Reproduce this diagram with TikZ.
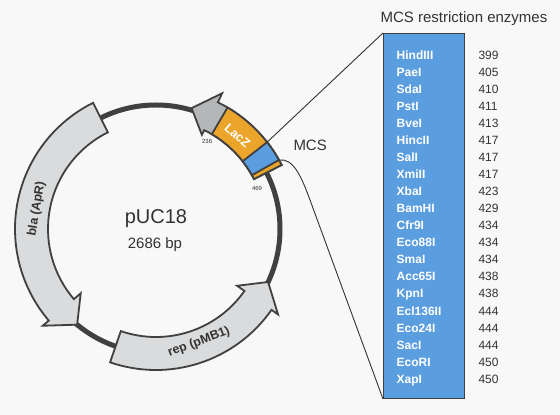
\documentclass[tikz,border=0pt]{standalone}
\usepackage{fontspec}
\setmainfont{Liberation Sans}
\definecolor{bgc}{HTML}{F8F8F8}
\definecolor{dk}{HTML}{404040}
\definecolor{txt}{HTML}{333333}
\definecolor{lgray}{HTML}{DADBDC}
\definecolor{mgray}{HTML}{B5B6B8}
\definecolor{lacz}{HTML}{EBA52B}
\definecolor{mcsblue}{HTML}{5B9EE0}
\newcommand\featarrow[4]{% tail, base, tip, style
  \draw[#4] (#1:108pt) arc[start angle=#1,end angle=#2,radius=108pt]
    -- (#2:99pt) -- (#3:124pt) -- (#2:149pt) -- (#2:141pt)
    arc[start angle=#2,end angle=#1,radius=141pt] -- cycle;}
\newcommand\featband[3]{% from, to, style
  \draw[#3] (#1:110pt) arc[start angle=#1,end angle=#2,radius=110pt]
    -- (#2:141pt) arc[start angle=#2,end angle=#1,radius=141pt] -- cycle;}
\begin{document}
\begin{tikzpicture}[x=1pt,y=1pt,
  feat/.style={draw=dk,line width=1.8pt,line join=miter},
  ringtext/.style={text=txt,font=\bfseries\fontsize{12.5}{14}\selectfont,inner sep=0pt},
  enzname/.style={text=white,font=\bfseries\fontsize{12}{14}\selectfont,anchor=base west,inner sep=0pt},
  enzpos/.style={text=txt,font=\fontsize{12}{14}\selectfont,anchor=base west,inner sep=0pt},
  tiny/.style={text=txt,font=\fontsize{6}{7}\selectfont,inner sep=0pt},
  conn/.style={draw=txt,line width=0.9pt}]
\fill[bgc] (0,0) rectangle (560,415);
\useasboundingbox (0,0) rectangle (560,415);
\begin{scope}[shift={(156,186)}]
  \draw[dk,line width=5pt] (0,0) circle[radius=124pt];
  \featarrow{116.5}{220.5}{230.5}{feat,fill=lgray}
  \featarrow{251}{325}{334.7}{feat,fill=lgray}
  % top feature
  \draw[feat,fill=mgray] (27:110pt) arc[start angle=27,end angle=64,radius=110pt]
    -- (64:104.7pt) -- (73.6:126pt) -- (64:151pt) -- (64:141pt)
    arc[start angle=64,end angle=27,radius=141pt] -- cycle;
  \featband{27}{59.5}{feat,fill=lacz}
  \featband{29.3}{38}{feat,fill=mcsblue}
  \coordinate (mcsTop) at (38:141pt);
  \coordinate (mcsBot) at (29.3:141pt);
  \node[ringtext,rotate=80.5] (bla) at (170.5:121pt) {bla (ApR)};
  \node[ringtext,rotate=20.8] (rep) at (290.8:121pt) {rep (pMB1)};
  \node[ringtext,text=white,rotate=-41] (laczl) at (49:124pt) {LacZ};
  \node[tiny] (l236) at (59.6:101pt) {236};
  \node[tiny] (l469) at (22:109pt) {469};
\end{scope}
\node[text=txt,font=\fontsize{20}{22}\selectfont,anchor=base,inner sep=0pt] (name) at (156,191.7) {pUC18};
\node[text=txt,font=\fontsize{15}{17}\selectfont,anchor=base,inner sep=0pt] (size) at (155,166.7) {2686 bp};
\node[text=txt,font=\fontsize{15}{17}\selectfont,anchor=base west,inner sep=0pt] (mcs) at (293.3,264.3) {MCS};
\node[text=txt,font=\fontsize{15}{17}\selectfont,anchor=base,inner sep=0pt] (title) at (464,392.3) {MCS restriction enzymes};
\node[draw=dk,line width=1pt,fill=mcsblue,minimum width=81pt,minimum height=365pt,anchor=north west,inner sep=0pt] (enz) at (383,382) {};
\foreach \nm/\val [count=\i] in {HindIII/399,PaeI/405,SdaI/410,PstI/411,BveI/413,HincII/417,SalI/417,XmiII/417,XbaI/423,BamHI/429,Cfr9I/434,Eco88I/434,SmaI/434,Acc65I/438,KpnI/438,Ecl136II/444,Eco24I/444,SacI/444,EcoRI/450,XapI/450}{
  \node[enzname] (e\i) at (396.5,{415-55-4.3-(\i-1)*17.05}) {\nm};
  \node[enzpos] (v\i) at (478.3,{415-55-4.3-(\i-1)*17.05}) {\val};
}
\coordinate (bend) at (310,215);
\draw[conn] (mcsTop) -- (enz.north west);
\draw[conn] (mcsBot) .. controls (293,257) and (300.8,240) .. (bend) -- (enz.south west);
\end{tikzpicture}
\end{document}
